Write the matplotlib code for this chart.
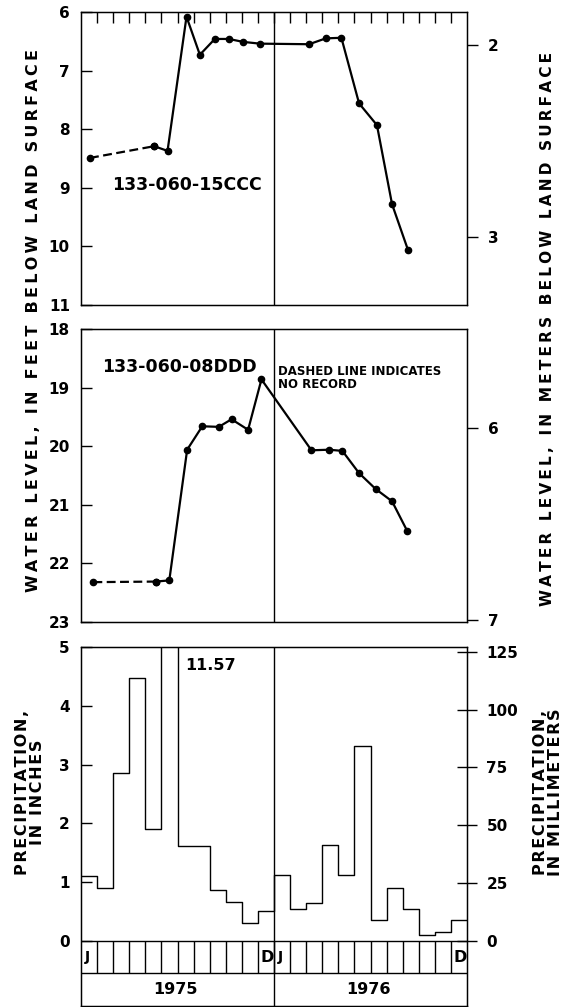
import matplotlib
matplotlib.use("Agg")
import matplotlib.pyplot as plt
import numpy as np

plt.rcParams['font.family'] = ['DejaVu Sans']
plt.rcParams['font.weight'] = 'bold'

FT_PER_M = 3.28084
MM_PER_IN = 25.4

# well 133-060-15CCC, decimal months from 1 Jan 1975
well1_month = [0.56, 4.55, 5.38, 6.56, 7.39, 8.32, 9.19, 10.08, 11.12,
               14.18, 15.22, 16.19, 17.29, 18.40, 19.34, 20.33]
well1_ft = [8.49, 8.29, 8.37, 6.08, 6.73, 6.46, 6.46, 6.51, 6.54,
            6.55, 6.45, 6.44, 7.56, 7.93, 9.28, 10.06]

# well 133-060-08DDD
well2_month = [0.77, 4.66, 5.49, 6.60, 7.54, 8.57, 9.36, 10.39, 11.22,
               14.33, 15.42, 16.25, 17.29, 18.32, 19.34, 20.27]
well2_ft = [22.32, 22.31, 22.29, 20.06, 19.66, 19.67, 19.54, 19.72, 18.86,
            20.07, 20.06, 20.08, 20.46, 20.73, 20.94, 21.44]

# monthly precipitation, inches
precip_1975 = [1.10, 0.91, 2.85, 4.48, 1.91, 11.57, 1.62, 1.62, 0.86, 0.67, 0.31, 0.51]
precip_1976 = [1.13, 0.54, 0.65, 1.63, 1.12, 3.31, 0.35, 0.91, 0.54, 0.10, 0.16, 0.35]
years = ['1975', '1976']

W, H = 568, 1007
fig = plt.figure(figsize=(W / 100, H / 100), dpi=100)


def box(top, bottom):
    return [81 / W, 1 - bottom / H, 386 / W, (bottom - top) / H]


def spaced(s, sep):
    # the original lettering is widely tracked
    return '\n'.join(sep.join(line) for line in s.split('\n'))


lw = 1.0
tick_kw = dict(labelsize=11, width=1.0, length=8)


def well_panel(rect, months, ft, ylo, yhi, mticks, label, label_xy):
    ax = fig.add_axes(rect)
    ax.set_xlim(0, 24)
    ax.set_ylim(yhi, ylo)
    ax.plot(months[:2], ft[:2], color='black', lw=1.6, ls=(0, (4, 2)),
            marker='o', ms=4.5)
    ax.plot(months[1:], ft[1:], color='black', lw=1.6, marker='o', ms=4.5)
    ax.axvline(12, color='black', lw=lw)
    ax.set_yticks(np.arange(ylo, yhi + 1))
    ax.tick_params(axis='y', direction='in', left=True, right=True, pad=8, **tick_kw)
    ax.set_xticks([])
    for s in ax.spines.values():
        s.set_linewidth(lw)
    ax.text(label_xy[0], label_xy[1], label, fontsize=12.5, fontweight='bold',
            ha='left', va='center')
    ax2 = ax.twinx()
    ax2.set_ylim(yhi / FT_PER_M, ylo / FT_PER_M)
    ax2.set_yticks(mticks)
    ax2.tick_params(axis='y', direction='out', pad=7, **tick_kw)
    return ax


ax1 = well_panel(box(12, 305), well1_month, well1_ft, 6, 11, [2, 3],
                 '133-060-15CCC', (1.93, 8.95))
ax1.set_xticks(np.arange(1, 24))
ax1.tick_params(axis='x', direction='in', bottom=False, top=True,
                labelbottom=False, length=8, width=1.0)

ax2 = well_panel(box(329, 622), well2_month, well2_ft, 18, 23, [6, 7],
                 '133-060-08DDD', (1.29, 18.64))
ax2.text(12.25, 18.84, 'DASHED LINE INDICATES\nNO RECORD', fontsize=8.5,
         fontweight='bold', ha='left', va='center', linespacing=1.0)

# precipitation panel
ax3 = fig.add_axes(box(647, 1006))
ybot = -1.105
strip = -0.545
ax3.set_xlim(0, 24)
ax3.set_ylim(ybot, 5)
vals = precip_1975 + precip_1976
edges = np.arange(25)
ax3.step(edges, vals + [vals[-1]], where='post', color='black', lw=1.0)
ax3.axvline(12, color='black', lw=lw)
ax3.axhline(0, color='black', lw=lw)
ax3.axhline(strip, color='black', lw=lw)
ax3.vlines(np.arange(1, 24), strip, 0, color='black', lw=lw)
for yr in range(2):
    ax3.text(yr * 12 + 0.4, strip / 2, 'J', fontsize=10, fontweight='bold',
             ha='center', va='center')
    ax3.text(yr * 12 + 11.97, strip / 2, 'D', fontsize=11.5, fontweight='bold',
             ha='right', va='center')
    ax3.text(yr * 12 + 5.9, (strip + ybot) / 2, years[yr], fontsize=11.5,
             fontweight='bold', ha='center', va='center')
ax3.text(6.47, 4.68, '11.57', fontsize=11.5, fontweight='bold', ha='left', va='center')
ax3.set_xticks([])
ax3.set_yticks(np.arange(0, 6))
ax3.tick_params(axis='y', direction='in', pad=8, **tick_kw)
for s in ax3.spines.values():
    s.set_linewidth(lw)
ax3r = ax3.twinx()
ax3r.set_ylim(ybot * MM_PER_IN, 5 * MM_PER_IN)
ax3r.set_yticks(np.arange(0, 126, 25))
ax3r.tick_params(axis='y', direction='inout', labelsize=11, width=1.0,
                 length=14, pad=7)

lab_kw = dict(rotation=90, ha='center', va='center', fontweight='bold')
fig.text(34 / W, 1 - 321 / H,
         spaced('WATER LEVEL, IN FEET BELOW LAND SURFACE', '\u2009'),
         fontsize=11.5, **lab_kw)
fig.text(547 / W, 1 - 329 / H,
         spaced('WATER LEVEL, IN METERS BELOW LAND SURFACE', '\u2009'),
         fontsize=11.1, **lab_kw)
fig.text(30 / W, 1 - 792 / H, spaced('PRECIPITATION,\nIN INCHES', '\u200a'),
         linespacing=1.05, fontsize=11.5, **lab_kw)
fig.text(548 / W, 1 - 792 / H, spaced('PRECIPITATION,\nIN MILLIMETERS', '\u200a'),
         linespacing=1.05, fontsize=11.5, **lab_kw)

fig.savefig('out.png', dpi=100)
